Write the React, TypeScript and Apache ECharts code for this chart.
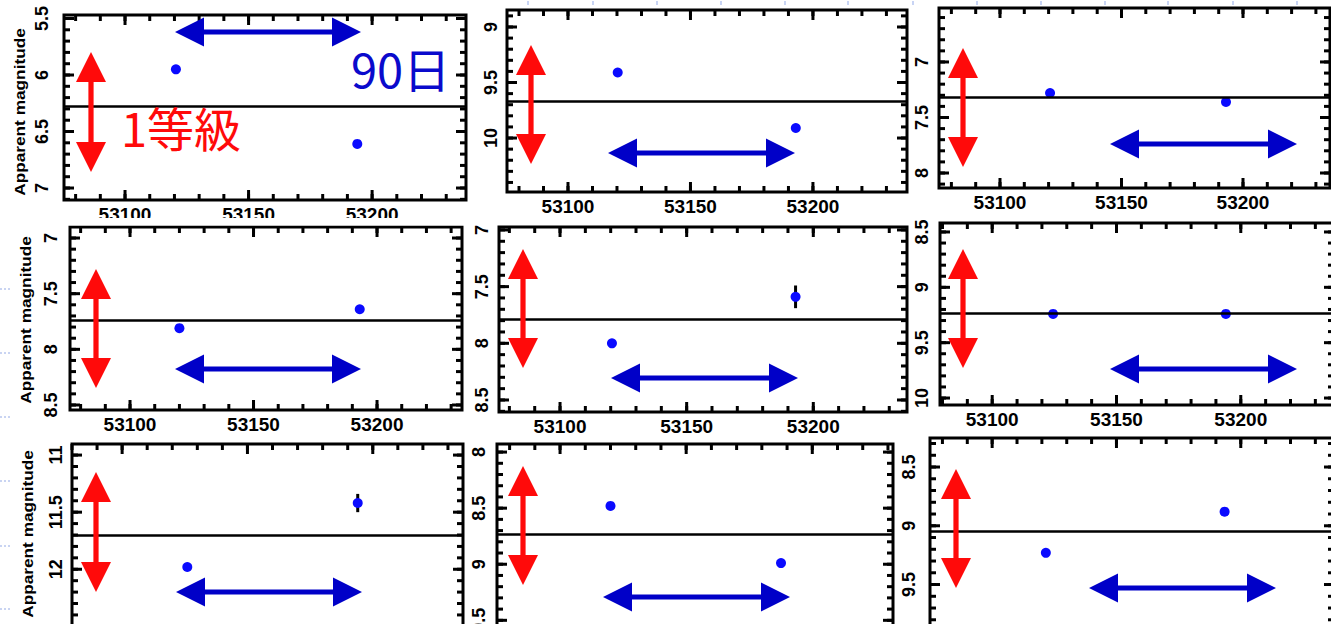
import React, { useEffect, useRef } from "react";
import * as echarts from "echarts";

// ---------- DATA ----------
// Observation dates (MJD) of the two epochs for each of the 9 stars
const obsDates: number[][] = [
  [53120.6, 53194.0],
  [53120.3, 53193.0],
  [53120.6, 53193.0],
  [53120.0, 53193.0],
  [53120.5, 53193.0],
  [53124.5, 53194.0],
  [53126.0, 53194.0],
  [53120.0, 53187.6],
  [53121.6, 53193.5],
];
// Apparent magnitudes at those dates
const magnitudes: number[][] = [
  [5.95, 6.61],
  [9.41, 9.91],
  [7.28, 7.36],
  [7.81, 7.64],
  [8.0, 7.59],
  [9.24, 9.24],
  [11.98, 11.42],
  [8.48, 8.99],
  [9.23, 8.88],
];
// Magnitude errors (only visible ones)
const magErrors: number[][] = [
  [0, 0],
  [0, 0],
  [0, 0],
  [0, 0],
  [0, 0.1],
  [0, 0],
  [0, 0.08],
  [0, 0],
  [0, 0],
];
// Mean magnitude (horizontal reference line)
const meanMagnitudes: number[] = [6.283, 9.668, 7.32, 7.736, 7.785, 9.226, 11.695, 8.733, 9.052];
// Axis ranges
const xRanges: number[][] = [
  [53075.3, 53238.0],
  [53075.1, 53238.4],
  [53074.9, 53235.8],
  [53075.7, 53234.4],
  [53075.9, 53237.0],
  [53079.0, 53237.5],
  [53080.0, 53236.0],
  [53075.0, 53232.0],
  [53075.0, 53237.5],
];
const yRanges: number[][] = [
  [5.469, 7.106],
  [8.847, 10.486],
  [6.514, 8.135],
  [6.901, 8.545],
  [6.974, 8.606],
  [8.419, 10.063],
  [10.903, 12.567],
  [7.928, 9.622],
  [8.253, 9.921],
];
// Tick labels
const xTickLabels: number[] = [53100, 53150, 53200];
const yTickLabels: number[][] = [
  [5.5, 6, 6.5, 7],
  [9, 9.5, 10],
  [7, 7.5, 8],
  [7, 7.5, 8, 8.5],
  [7, 7.5, 8, 8.5],
  [8.5, 9, 9.5, 10],
  [11, 11.5, 12],
  [8, 8.5, 9, 9.5],
  [8.5, 9, 9.5],
];
const yTitle = "Apparent magnitude";
const periodLabel = "90日";
const amplitudeLabel = "1等級";

// ---------- LAYOUT ----------
// [left, top, right, bottom] in px of each plot box
const BOXES: number[][] = [
  [64, 15, 466, 200],
  [507, 10, 907, 192],
  [939, 8, 1330, 188],
  [70, 227, 462, 410],
  [499, 227, 907, 412],
  [940, 223, 1334, 405],
  [72, 444, 463, 634],
  [497, 444, 893, 634],
  [930, 438, 1334, 634],
];
const Y_LABEL_MARGIN = [13, 7, 8, 10, 8, 9, 7, 9, 12];
const SHOW_X_LABELS = [true, true, true, true, true, true, false, false, false];
const TITLE_POS = [
  [19, 112],
  [25, 320],
  [27, 534],
];
// red vertical arrows: [cx, top, bottom]
const RED_ARROWS = [
  [91, 52, 172],
  [531, 45, 164],
  [963, 48, 167],
  [96, 269, 388],
  [523, 249, 368],
  [963, 249, 368],
  [96, 472, 592],
  [523, 466, 585],
  [956, 469, 588],
];
// blue horizontal arrows: [cy, left, right]
const BLUE_ARROWS = [
  [32, 175, 361],
  [153, 608, 795],
  [144, 1110, 1297],
  [369, 175, 361],
  [378, 611, 798],
  [369, 1110, 1297],
  [592, 176, 362],
  [597, 603, 790],
  [588, 1089, 1276],
];

const FONT = "'Liberation Sans', Arial, Helvetica, sans-serif";
const CJK = "'Noto Sans CJK JP', 'Noto Sans CJK SC', sans-serif";
const MAJOR_LEN = 10;
const MINOR_LEN = 6;
const TICK_W = 3;

function steps(min: number, max: number, step: number): number[] {
  const out: number[] = [];
  const start = Math.ceil(min / step - 1e-9);
  for (let k = start; k * step <= max + 1e-9; k++) out.push(+(k * step).toFixed(4));
  return out;
}

function vArrow(cx: number, top: number, bottom: number, color: string) {
  const hl = 30, hw = 15, sw = 2.6;
  return {
    type: "polygon",
    z: 20,
    shape: {
      points: [
        [cx, top],
        [cx + hw, top + hl],
        [cx + sw, top + hl],
        [cx + sw, bottom - hl],
        [cx + hw, bottom - hl],
        [cx, bottom],
        [cx - hw, bottom - hl],
        [cx - sw, bottom - hl],
        [cx - sw, top + hl],
        [cx - hw, top + hl],
      ],
    },
    style: { fill: color },
  };
}
function hArrow(cy: number, left: number, right: number, color: string) {
  const hl = 29, hw = 14.5, sw = 2.6;
  return {
    type: "polygon",
    z: 20,
    shape: {
      points: [
        [left, cy],
        [left + hl, cy - hw],
        [left + hl, cy - sw],
        [right - hl, cy - sw],
        [right - hl, cy - hw],
        [right, cy],
        [right - hl, cy + hw],
        [right - hl, cy + sw],
        [left + hl, cy + sw],
        [left + hl, cy + hw],
      ],
    },
    style: { fill: color },
  };
}

function buildGraphics(): any[] {
  const graphics: any[] = [];
  // cover lower part of top-left panel's x labels (overlapped by the next image)
  graphics.push({ type: "rect", z: 15, shape: { x: 0, y: 218, width: 470, height: 7.5 }, style: { fill: "#fff" } });
  // faint slide background dots
  [289, 353, 417, 481, 546, 609].forEach((y) =>
    graphics.push({
      type: "line",
      z: 1,
      shape: { x1: 0, y1: y, x2: 12, y2: y },
      style: { stroke: "#b8c6ee", lineWidth: 1.5, lineDash: [2, 2] },
    })
  );
  [528, 593, 657, 721, 785, 848, 913, 977, 1041, 1105, 1168, 1233, 1297].forEach((x) =>
    graphics.push({ type: "rect", z: 1, shape: { x: x - 1, y: 1, width: 2, height: 4 }, style: { fill: "#c8d4f4" } })
  );
  TITLE_POS.forEach(([x, y]) =>
    graphics.push({
      type: "text",
      z: 20,
      x,
      y,
      rotation: Math.PI / 2,
      scaleX: 1.15,
      style: {
        text: yTitle,
        fontSize: 15,
        fontWeight: "bold",
        fontFamily: FONT,
        fill: "#000",
        align: "center",
        verticalAlign: "middle",
      },
    })
  );
  RED_ARROWS.forEach(([cx, t, b]) => graphics.push(vArrow(cx, t, b, "#ff0a0a")));
  BLUE_ARROWS.forEach(([cy, l, r]) => graphics.push(hArrow(cy, l, r, "#0000c8")));
  graphics.push({
    type: "text",
    z: 21,
    x: 351,
    y: 67,
    style: {
      text: periodLabel,
      fontSize: 47,
      fontFamily: CJK,
      fill: "#0a0acc",
      align: "left",
      verticalAlign: "middle",
    },
  });
  graphics.push({
    type: "text",
    z: 21,
    x: 121,
    y: 126,
    style: {
      text: amplitudeLabel,
      fontSize: 47,
      fontFamily: CJK,
      fill: "#ff0a0a",
      align: "left",
      verticalAlign: "middle",
    },
  });
  return graphics;
}

// Tick marks drawn as rect symbols of a scatter series placed through the axes
function tickSeriesData(i: number): any[] {
  const [l, t, r, b] = BOXES[i];
  const [xmin, xmax] = xRanges[i];
  const [ymin, ymax] = yRanges[i];
  const pxX = (r - l) / (xmax - xmin);
  const pxY = (b - t) / (ymax - ymin);
  const out: any[] = [];
  const xt: number[][] = [
    ...xTickLabels.map((v) => [v, MAJOR_LEN]),
    ...steps(xmin, xmax, 10).map((v) => [v, MINOR_LEN]),
  ];
  const yt: number[][] = [
    ...yTickLabels[i].map((v) => [v, MAJOR_LEN]),
    ...steps(ymin, ymax, 0.1).map((v) => [v, MINOR_LEN]),
  ];
  xt.forEach(([v, len]) => {
    const dy = len / 2 / pxY;
    out.push({ value: [v, ymax - dy], symbolSize: [TICK_W, len] });
    out.push({ value: [v, ymin + dy], symbolSize: [TICK_W, len] });
  });
  yt.forEach(([v, len]) => {
    const dx = len / 2 / pxX;
    out.push({ value: [xmin + dx, v], symbolSize: [len, TICK_W] });
    out.push({ value: [xmax - dx, v], symbolSize: [len, TICK_W] });
  });
  return out;
}

function buildOption() {
  const grids: any[] = [];
  const xAxes: any[] = [];
  const yAxes: any[] = [];
  const series: any[] = [];

  for (let i = 0; i < 9; i++) {
    const [l, t, r, b] = BOXES[i];
    grids.push({
      left: l,
      top: t,
      width: r - l,
      height: b - t,
      show: true,
      borderColor: "#000",
      borderWidth: 3,
      backgroundColor: "transparent",
      containLabel: false,
      outerBoundsMode: "none",
    });
    const [xmin, xmax] = xRanges[i];
    const [ymin, ymax] = yRanges[i];

    xAxes.push({
      type: "value",
      gridIndex: i,
      position: "bottom",
      min: xmin,
      max: xmax,
      axisLine: { show: false, onZero: false },
      axisTick: { show: false },
      splitLine: { show: false },
      axisLabel: {
        show: SHOW_X_LABELS[i],
        customValues: xTickLabels,
        margin: 5,
        color: "#000",
        fontSize: 19,
        fontWeight: "bold",
        fontFamily: FONT,
        formatter: (v: number) => String(v),
      },
    });
    yAxes.push({
      type: "value",
      gridIndex: i,
      position: "left",
      inverse: true,
      min: ymin,
      max: ymax,
      axisLine: { show: false, onZero: false },
      axisTick: { show: false },
      splitLine: { show: false },
      axisLabel: {
        show: true,
        customValues: yTickLabels[i],
        rotate: 90,
        margin: Y_LABEL_MARGIN[i],
        color: "#000",
        fontSize: 18,
        fontWeight: "bold",
        fontFamily: FONT,
        formatter: (v: number) => String(v),
      },
    });

    series.push({
      type: "scatter",
      xAxisIndex: i,
      yAxisIndex: i,
      z: 4,
      silent: true,
      clip: false,
      symbol: "rect",
      itemStyle: { color: "#000", opacity: 1 },
      data: tickSeriesData(i),
    });

    const pts = obsDates[i].map((d, k) => [d, magnitudes[i][k]]);
    const errs = obsDates[i].map((d, k) => [d, magnitudes[i][k], magErrors[i][k]]);

    series.push({
      type: "custom",
      xAxisIndex: i,
      yAxisIndex: i,
      z: 2,
      data: errs,
      renderItem: (_p: any, api: any) => {
        const x = api.value(0);
        const y = api.value(1);
        const e = api.value(2);
        const p1 = api.coord([x, y - e]);
        const p2 = api.coord([x, y + e]);
        return {
          type: "line",
          shape: { x1: p1[0], y1: p1[1], x2: p2[0], y2: p2[1] },
          style: { stroke: "#000", lineWidth: 3 },
        };
      },
      markLine: {
        silent: true,
        symbol: ["none", "none"],
        label: { show: false },
        lineStyle: { color: "#000", width: 2.5, type: "solid" },
        data: [{ yAxis: meanMagnitudes[i] }],
      },
    });
    series.push({
      type: "scatter",
      xAxisIndex: i,
      yAxisIndex: i,
      z: 3,
      symbol: "circle",
      symbolSize: 10,
      itemStyle: { color: "#0a0aff", opacity: 1 },
      data: pts,
    });
  }

  return {
    animation: false,
    backgroundColor: "#fff",
    grid: grids,
    xAxis: xAxes,
    yAxis: yAxes,
    series,
    graphic: { elements: buildGraphics() },
  };
}

export default function App() {
  const ref = useRef<HTMLDivElement>(null);
  useEffect(() => {
    if (!ref.current) return;
    const chart = echarts.init(ref.current, undefined, { renderer: "svg" });
    chart.setOption(buildOption() as any);
    return () => chart.dispose();
  }, []);
  return (
    <div
      ref={ref}
      style={{ position: "fixed", left: 0, top: 0, width: 1331, height: 624, background: "#fff" }}
    />
  );
}
